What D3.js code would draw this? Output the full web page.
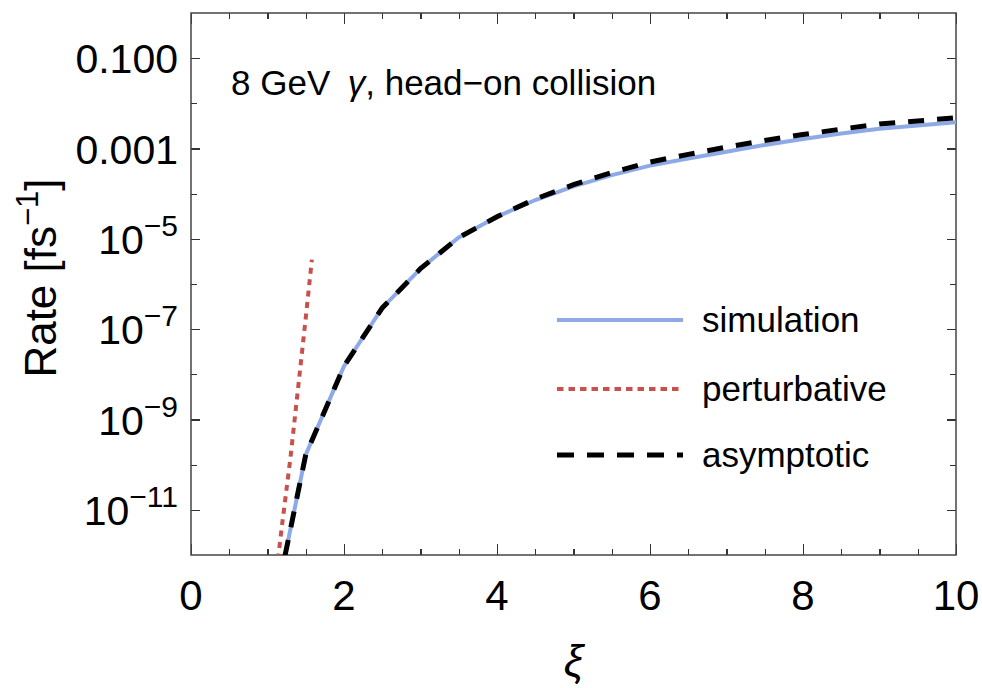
<!DOCTYPE html>
<html>
<head>
<meta charset="UTF-8">
<title>rate</title>
<script src="https://cdn.jsdelivr.net/npm/d3@7"></script>
<style>
body { margin:0; background:#fff; }
text { font-family:"Liberation Sans", Arial, sans-serif; fill:#000; }
.frame { fill:none; stroke:#444; stroke-width:1.5px; }
.axis line { stroke:#333; stroke-width:1.2px; shape-rendering:crispEdges; }
.axis path { display:none; }
</style>
</head>
<body>
<div id="chart"></div>
<script>
// plot box
var W = 982, H = 688;
var plotL = 191, plotR = 956, plotT = 13, plotB = 555;

// data
var xiSim   = [1.0, 1.5, 2.0, 2.5, 3.0, 3.5, 4.0, 4.5, 5.0, 5.5, 6.0, 6.5, 7.0, 7.5, 8.0, 8.5, 9.0, 9.5, 10.0];
var rateSim = [1.26e-14, 1.66e-10, 1.51e-8, 2.95e-7, 2.19e-6, 1.07e-5, 3.09e-5, 7.24e-5, 1.45e-4, 2.57e-4,
               4.17e-4, 6.03e-4, 8.51e-4, 1.20e-3, 1.62e-3, 2.14e-3, 2.75e-3, 3.24e-3, 3.80e-3];
var xiAsym   = [1.0, 1.5, 2.0, 2.5, 3.0, 3.5, 4.0, 4.5, 5.0, 5.5, 6.0, 6.5, 7.0, 7.5, 8.0, 8.5, 9.0, 9.5, 10.0];
var rateAsym = [1.26e-14, 1.66e-10, 1.51e-8, 2.95e-7, 2.19e-6, 1.07e-5, 3.09e-5, 7.59e-5, 1.58e-4, 2.95e-4,
                5.01e-4, 7.41e-4, 1.07e-3, 1.51e-3, 2.04e-3, 2.69e-3, 3.47e-3, 4.07e-3, 4.79e-3];
var xiPert   = [1.1, 1.2, 1.3, 1.4, 1.5, 1.58];
var ratePert = [2.5e-13, 6.3e-12, 1.41e-10, 5.0e-9, 1.78e-7, 3.47e-6];

// ticks
var xMajor = [0, 2, 4, 6, 8, 10];
var xMinor = [0.5, 1, 1.5, 2.5, 3, 3.5, 4.5, 5, 5.5, 6.5, 7, 7.5, 8.5, 9, 9.5];
var yMajor = [1e-1, 1e-3, 1e-5, 1e-7, 1e-9, 1e-11];
var yMinor = [1e-2, 1e-4, 1e-6, 1e-8, 1e-10];
var yLabelBase = ["0.100", "0.001", "10", "10", "10", "10"];
var yLabelSup  = ["", "", "\u22125", "\u22127", "\u22129", "\u221211"];

var legendNames = ["simulation", "perturbative", "asymptotic"];

var x = d3.scaleLinear().domain([0, 10]).range([plotL, plotR]);
var y = d3.scaleLog().domain([1e-12, 1]).range([plotB, plotT]);

var svg = d3.select("#chart").append("svg")
  .attr("width", W).attr("height", H);

svg.append("defs").append("clipPath").attr("id", "clip")
  .append("rect")
  .attr("x", plotL).attr("y", plotT)
  .attr("width", plotR - plotL).attr("height", plotB - plotT);

// ticks, all pointing inward like the frame ticks
function ticks(axisFn, vals, size, tr) {
  svg.append("g").attr("class", "axis").attr("transform", tr)
    .call(axisFn.tickValues(vals).tickSizeInner(-size).tickSizeOuter(0).tickFormat(""));
}
ticks(d3.axisBottom(x), xMajor, 11, "translate(0," + plotB + ")");
ticks(d3.axisBottom(x), xMinor, 6,  "translate(0," + plotB + ")");
ticks(d3.axisTop(x),    xMajor, 11, "translate(0," + plotT + ")");
ticks(d3.axisTop(x),    xMinor, 6,  "translate(0," + plotT + ")");
ticks(d3.axisLeft(y),   yMajor, 9,  "translate(" + plotL + ",0)");
ticks(d3.axisLeft(y),   yMinor, 6,  "translate(" + plotL + ",0)");
ticks(d3.axisRight(y),  yMajor, 9,  "translate(" + plotR + ",0)");
ticks(d3.axisRight(y),  yMinor, 6,  "translate(" + plotR + ",0)");

svg.append("rect").attr("class", "frame")
  .attr("x", plotL).attr("y", plotT)
  .attr("width", plotR - plotL).attr("height", plotB - plotT);

// x labels
svg.selectAll(".xlab").data(xMajor).enter().append("text")
  .attr("class", "xlab")
  .attr("x", function(d){ return x(d); })
  .attr("y", plotB + 55)
  .attr("text-anchor", "middle")
  .attr("font-size", "42px")
  .text(function(d){ return d; });

// y labels with superscripts
var yl = svg.selectAll(".ylab").data(yMajor).enter().append("text")
  .attr("class", "ylab")
  .attr("x", plotL - 13)
  .attr("y", function(d){ return y(d) + 15; })
  .attr("text-anchor", "end")
  .attr("font-size", "41px");
yl.append("tspan").text(function(d, i){ return yLabelBase[i]; });
yl.append("tspan").attr("dy", -18).attr("font-size", "30px")
  .text(function(d, i){ return yLabelSup[i]; });

// curves
var line = d3.line()
  .x(function(d){ return x(d[0]); })
  .y(function(d){ return y(d[1]); });

var g = svg.append("g").attr("clip-path", "url(#clip)");
g.append("path")
  .attr("d", line(d3.zip(xiSim, rateSim)))
  .attr("fill", "none").attr("stroke", "#8eaae6").attr("stroke-width", 4);
g.append("path")
  .attr("d", line(d3.zip(xiPert, ratePert)))
  .attr("fill", "none").attr("stroke", "#c9504d").attr("stroke-width", 4)
  .attr("stroke-dasharray", "6,5.5");
g.append("path")
  .attr("d", line(d3.zip(xiAsym, rateAsym)))
  .attr("fill", "none").attr("stroke", "#000").attr("stroke-width", 5)
  .attr("stroke-dasharray", "16,13");

// legend
var legStyle = [
  {c:"#8eaae6", w:4,   dash:null},
  {c:"#c9504d", w:4,   dash:"6.5,5"},
  {c:"#000",    w:5,   dash:"17,13"}
];
var legY = [320, 389, 455];
legendNames.forEach(function(name, i){
  var l = svg.append("line")
    .attr("x1", 557).attr("x2", 683)
    .attr("y1", legY[i]).attr("y2", legY[i])
    .attr("stroke", legStyle[i].c).attr("stroke-width", legStyle[i].w);
  if (legStyle[i].dash) l.attr("stroke-dasharray", legStyle[i].dash);
  svg.append("text")
    .attr("x", 702).attr("y", legY[i] + 12)
    .attr("font-size", "35px")
    .text(name);
});

// title inside the plot
var t = svg.append("text").attr("x", 231).attr("y", 95).attr("font-size", "35px");
t.append("tspan").text("8 GeV\u2002");
t.append("tspan").attr("font-style", "italic").text("\u03b3");
t.append("tspan").text(", head\u2212on collision");

// axis titles
var yt = svg.append("text")
  .attr("transform", "translate(56,278) rotate(-90)")
  .attr("text-anchor", "middle")
  .attr("font-size", "44px");
yt.append("tspan").text("Rate [fs");
yt.append("tspan").attr("dy", -18).attr("font-size", "31px").text("\u22121");
yt.append("tspan").attr("dy", 18).text("]");

svg.append("text")
  .attr("x", (plotL + plotR) / 2).attr("y", 676)
  .attr("text-anchor", "middle")
  .attr("font-size", "44px")
  .attr("font-style", "italic")
  .text("\u03be");
</script>
</body>
</html>
